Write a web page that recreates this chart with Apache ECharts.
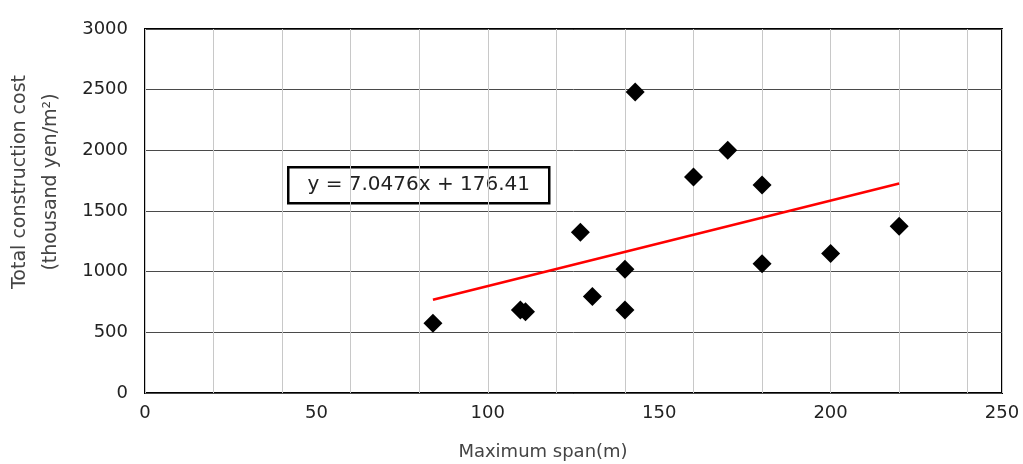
<!DOCTYPE html>
<html>
<head>
<meta charset="utf-8">
<script src="https://cdn.jsdelivr.net/npm/echarts@6/dist/echarts.min.js"></script>
<style>
  html, body { margin: 0; padding: 0; background: #fff; }
  #chart { width: 1023px; height: 464px; }
</style>
</head>
<body>
<div id="chart"></div>
<script>
// Maximum span (m) and total construction cost (thousand yen/m²) per project
const spanM = [84, 109.5, 111, 127, 130.5, 140, 140, 143, 160, 170, 180, 180, 200, 220];
const costK = [575, 685, 670, 1325, 795, 685, 1020, 2480, 1780, 2000, 1715, 1065, 1150, 1375];

// Linear fit shown in the label
const slope = 7.0476;
const intercept = 176.41;
const fitRange = [84, 220];

const xTicks = [0, 50, 100, 150, 200, 250];
const yTicks = [0, 500, 1000, 1500, 2000, 2500, 3000];

const points = spanM.map((x, i) => [x, costK[i]]);
const fitLine = fitRange.map(x => [x, slope * x + intercept]);
const eqText = 'y = ' + slope.toFixed(4) + 'x + ' + intercept.toFixed(2);

const font = 'DejaVu Sans';
const plain = v => String(v);
const chart = echarts.init(document.getElementById('chart'));

chart.setOption({
  animation: false,
  backgroundColor: '#fff',
  grid: {
    left: 145, right: 21, top: 29, bottom: 71,
    show: true, borderColor: '#000', borderWidth: 2
  },
  xAxis: [
    {
      type: 'value', min: xTicks[0], max: xTicks[xTicks.length - 1], interval: 50,
      axisLine: { show: false }, axisTick: { show: false },
      splitLine: { show: false },
      axisLabel: { color: '#222', fontFamily: font, fontSize: 18, margin: 11, formatter: plain }
    },
    {
      // light vertical guides every 20 m
      type: 'value', min: 0, max: 250, interval: 20, position: 'bottom',
      axisLine: { show: false }, axisTick: { show: false }, axisLabel: { show: false },
      splitLine: { show: true, lineStyle: { color: '#c8c8c8', width: 1 } }
    }
  ],
  yAxis: {
    type: 'value', min: yTicks[0], max: yTicks[yTicks.length - 1], interval: 500,
    axisLine: { show: false }, axisTick: { show: false },
    splitLine: { show: true, lineStyle: { color: '#4a4a4a', width: 1 } },
    axisLabel: { color: '#222', fontFamily: font, fontSize: 18, margin: 17, formatter: plain }
  },
  series: [
    {
      type: 'line', data: fitLine, xAxisIndex: 0,
      symbol: 'none', silent: true,
      lineStyle: { color: '#ff0000', width: 2.5 }, z: 3
    },
    {
      type: 'scatter', data: points, xAxisIndex: 0,
      symbol: 'diamond', symbolSize: 19,
      itemStyle: { color: '#000', opacity: 1 }, z: 4
    }
  ],
  graphic: [
    {
      type: 'group', left: 287, top: 166, z: 10,
      children: [
        { type: 'rect', shape: { x: 0, y: 0, width: 261, height: 36 },
          style: { fill: '#fff', stroke: '#000', lineWidth: 2.5 } },
        { type: 'text', x: 130.5, y: 18,
          style: { text: eqText, fill: '#222', font: '20px "DejaVu Sans"',
                   align: 'center', verticalAlign: 'middle' } }
      ]
    },
    {
      type: 'text', x: 543, y: 452, z: 10,
      style: { text: 'Maximum span(m)', fill: '#444', font: '18px "DejaVu Sans"',
               align: 'center', verticalAlign: 'middle' }
    },
    {
      type: 'text', x: 36, y: 182, rotation: Math.PI / 2, z: 10,
      style: { text: 'Total construction cost\n(thousand yen/m²)', fill: '#444',
               font: '19px "DejaVu Sans"', lineHeight: 31,
               align: 'center', verticalAlign: 'middle' }
    }
  ]
});
</script>
</body>
</html>
